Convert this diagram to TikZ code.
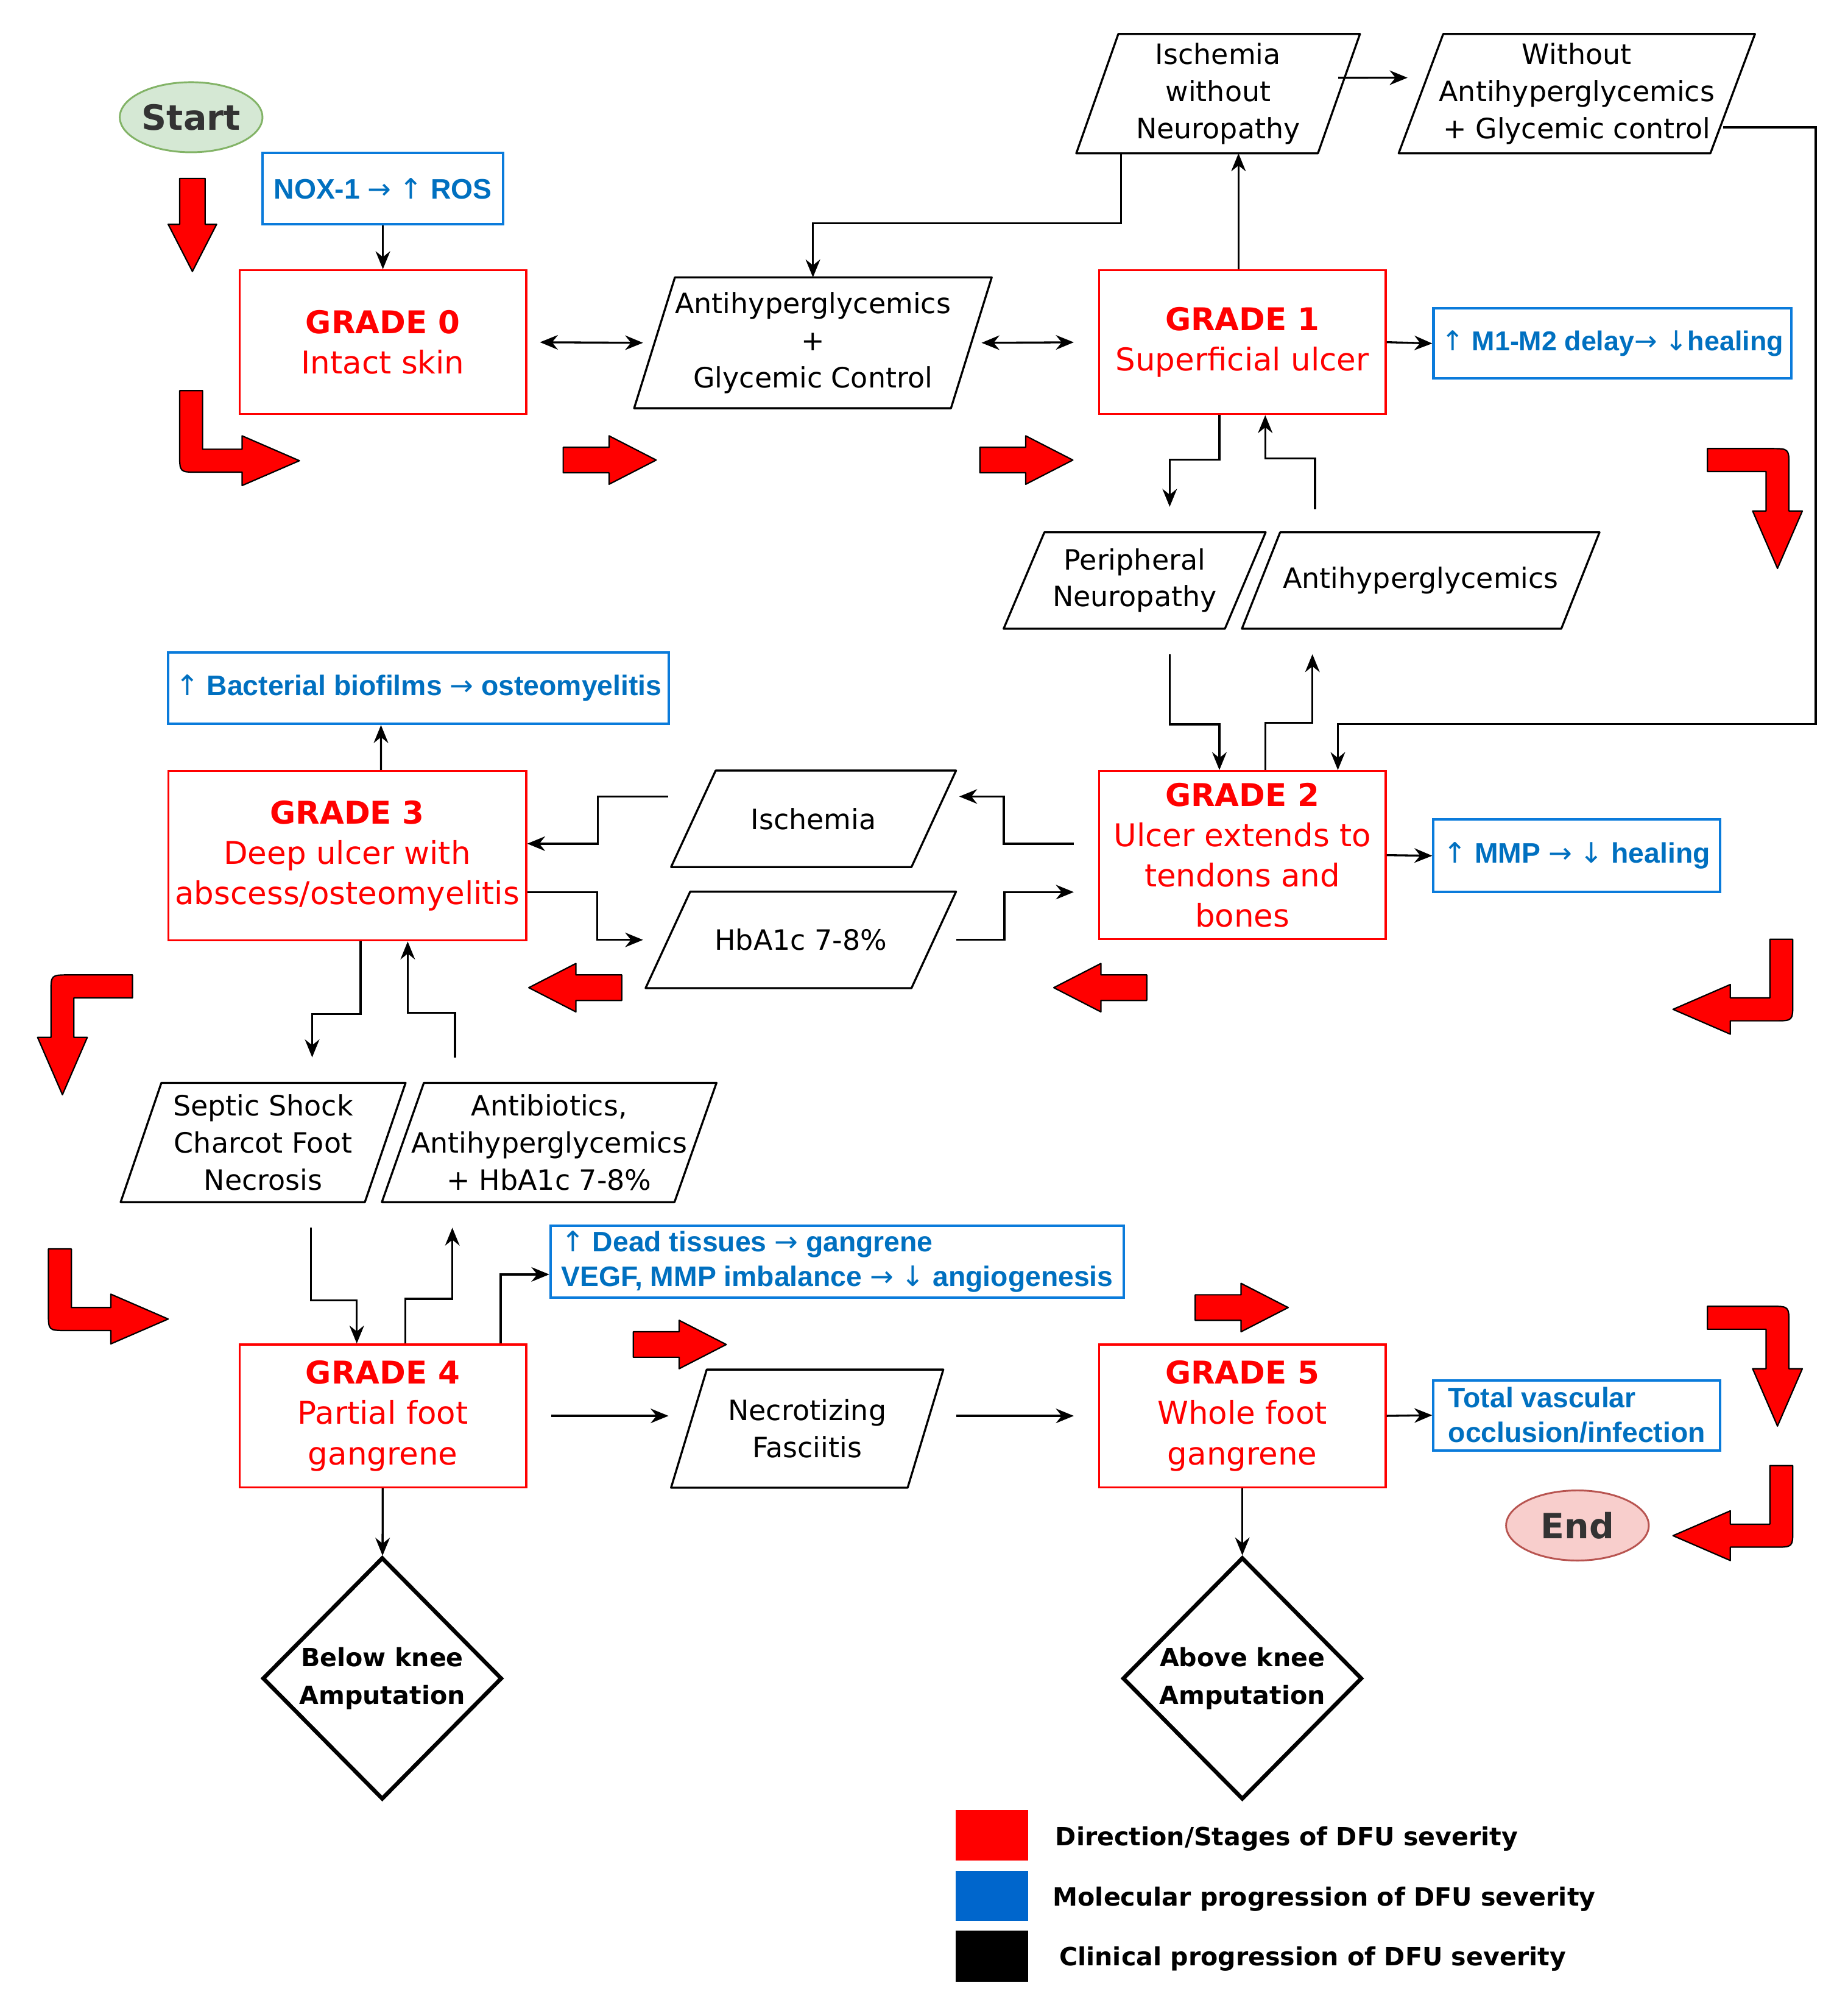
\documentclass[tikz,border=0pt]{standalone}
\usepackage{fontspec}
\setmainfont{DejaVu Sans}
\newfontfamily\arialfont{Liberation Sans}
\newfontfamily\arrowfont{DejaVu Sans}
\newcommand{\molto}{{\arrowfont\mdseries →}}
\newcommand{\molup}{{\arrowfont\mdseries ↑}}
\newcommand{\moldown}{{\arrowfont\mdseries ↓}}
\usetikzlibrary{arrows.meta,shapes.geometric,positioning,calc}
\definecolor{dfured}{HTML}{FF0000}
\definecolor{molblue}{HTML}{0070C0}
\definecolor{boxblue}{HTML}{0A7BDB}
\definecolor{legblue}{HTML}{0066CC}
\definecolor{startgreen}{HTML}{D5E8D4}
\definecolor{startedge}{HTML}{82B366}
\definecolor{endpink}{HTML}{F8CECC}
\definecolor{endedge}{HTML}{B85450}
\definecolor{termtext}{HTML}{333333}

\tikzset{
  redfill/.style={fill=dfured, draw=black, line width=0.6pt, line join=round},
  blockarrow/.pic={\filldraw[redfill] (0,10) -- (36,10) -- (36,19) -- (73,0) -- (36,-19) -- (36,-10) -- (0,-10) -- cycle;},
  bentarrow/.pic={\filldraw[redfill] (0,0) -- (18,0) -- (18,-46) -- (49,-46) -- (49,-35.5) -- (94,-55) -- (49,-74.5) -- (49,-64) -- (14,-64) .. controls (0,-64) .. (0,-50) -- cycle;}
}
% name, position, width, height, slant, text
\newcommand{\datanode}[6]{%
  \node[paratext, minimum width=#3, minimum height=#4] (#1) at #2 {#6};
  \draw[paraedge] ([xshift=#5]#1.north west) -- (#1.north east) -- ([xshift=-#5]#1.south east) -- (#1.south west) -- cycle;}

\begin{document}
\begin{tikzpicture}[x=0.02cm, y=0.02cm, >={Stealth[length=8pt,width=6.5pt]},
  gradebox/.style={draw=dfured, line width=0.9pt, text=dfured, align=center, inner sep=1pt, minimum width=4.5cm, font=\fontsize{14}{18}\selectfont},
  molbox/.style={draw=boxblue, line width=1.1pt, text=molblue, inner sep=1pt, font=\arialfont\bfseries\fontsize{12.6}{15.5}\selectfont},
  paratext/.style={align=center, inner sep=1pt, font=\fontsize{12.5}{16.5}\selectfont},
  paraedge/.style={line width=0.9pt, line join=round},
  terminal/.style={ellipse, draw, line width=0.8pt, inner sep=0pt, minimum width=2.24cm, minimum height=1.1cm, text=termtext, font=\bfseries\fontsize{15.5}{18}\selectfont},
  amput/.style={diamond, draw, line width=1.8pt, minimum width=3.76cm, minimum height=3.8cm, inner sep=0pt, align=center, font=\bfseries\fontsize{11.2}{17}\selectfont},
  conn/.style={->, line width=0.9pt},
  keybox/.style={minimum width=1.14cm, minimum height=0.8cm, inner sep=0pt},
  legtext/.style={anchor=west, inner sep=0pt, font=\bfseries\fontsize{11.2}{13}\selectfont}]
\fill[white] (0,0) rectangle (1450,-1567);
\useasboundingbox (0,0) rectangle (1450,-1567);

% terminals and molecular boxes
\node[terminal, fill=startgreen, draw=startedge] (start) at (150,-92) {Start};
\node[terminal, fill=endpink, draw=endedge] (stop) at (1238,-1197) {End};
\node[molbox, minimum width=3.78cm, minimum height=1.12cm] (nox) at (300.5,-148) {NOX-1 \molto{} \molup{} ROS};
\node[molbox, minimum width=5.62cm, minimum height=1.1cm, font=\arialfont\bfseries\fontsize{12.2}{15}\selectfont] (m1m2) at (1265.5,-269.5) {\molup{} M1-M2 delay\molto{} \moldown{}healing};
\node[molbox, minimum width=4.5cm, minimum height=1.14cm] (mmp) at (1237.5,-671.5) {\molup{} MMP \molto{} \moldown{} healing};
\node[molbox, minimum width=7.86cm, minimum height=1.12cm] (bact) at (328.5,-540) {\molup{} Bacterial biofilms \molto{} osteomyelitis};
\node[molbox, minimum width=9cm, minimum height=1.12cm, align=left] (dead) at (657,-990) {\molup{} Dead tissues \molto{} gangrene\\VEGF, MMP imbalance \molto{} \moldown{} angiogenesis};
\node[molbox, minimum width=4.5cm, minimum height=1.1cm, align=left] (tvo) at (1237.5,-1110.5) {Total vascular\\occlusion/infection};

% grades
\node[gradebox, minimum height=2.26cm] (g0) at (300.5,-268.5) {{\bfseries GRADE 0}\\Intact skin};
\node[gradebox, minimum height=2.26cm] (g1) at (975,-268.5) {{\bfseries GRADE 1}\\Superficial ulcer};
\node[gradebox, minimum height=2.64cm] (g2) at (975,-671) {{\bfseries GRADE 2}\\Ulcer extends to\\tendons and\\bones};
\node[gradebox, minimum width=5.62cm, minimum height=2.66cm] (g3) at (272.5,-671.5) {{\bfseries GRADE 3}\\Deep ulcer with\\abscess/osteomyelitis};
\node[gradebox, minimum height=2.24cm] (g4) at (300.5,-1111) {{\bfseries GRADE 4}\\Partial foot\\gangrene};
\node[gradebox, minimum height=2.24cm] (g5) at (975,-1111) {{\bfseries GRADE 5}\\Whole foot\\gangrene};

% clinical factors
\datanode{ahg}{(638,-269)}{5.6cm}{2.04cm}{0.64cm}{Antihyperglycemics\\+\\Glycemic Control}
\datanode{iwn}{(956,-73.5)}{4.44cm}{1.86cm}{0.66cm}{Ischemia\\without\\Neuropathy}
\datanode{wag}{(1237.5,-73.5)}{5.58cm}{1.86cm}{0.7cm}{Without\\Antihyperglycemics\\+ Glycemic control}
\datanode{pn}{(890.5,-455.5)}{4.1cm}{1.5cm}{0.64cm}{Peripheral\\Neuropathy}
\datanode{ah2}{(1115,-455.5)}{5.6cm}{1.5cm}{0.6cm}{Antihyperglycemics}
\datanode{isch}{(638.5,-642.5)}{4.46cm}{1.5cm}{0.7cm}{Ischemia}
\datanode{hba}{(628.5,-737.5)}{4.86cm}{1.5cm}{0.7cm}{HbA1c 7-8\%}
\datanode{ssc}{(206.5,-896.5)}{4.46cm}{1.86cm}{0.64cm}{Septic Shock\\Charcot Foot\\Necrosis}
\datanode{abx}{(431,-896.5)}{5.24cm}{1.86cm}{0.66cm}{Antibiotics,\\Antihyperglycemics\\+ HbA1c 7-8\%}
\datanode{nf}{(633.5,-1121)}{4.26cm}{1.84cm}{0.56cm}{Necrotizing\\Fasciitis}

% amputations
\node[amput] (bka) at (300,-1317) {Below knee\\Amputation};
\node[amput] (aka) at (975,-1317) {Above knee\\Amputation};

% connectors
\coordinate (rightbend) at (1425,-568);
\draw[conn] (nox) -- (g0);
\draw[conn,<->,shorten <=0.2cm] (g0.east) -- ([xshift=0.14cm]ahg.west);
\draw[conn,<->,shorten >=0.38cm] ([xshift=-0.16cm]ahg.east) -- (g1.west);
\draw[conn] (g1.east) -- (m1m2.west);
\draw[conn] ([xshift=-0.06cm]g1.north) -- ([xshift=-0.06cm]g1.north |- iwn.south);
\draw[conn] ([xshift=0.7cm]iwn.south west) -- ++(0,-55) -| (ahg.north);
\draw[conn] ([xshift=-0.34cm,yshift=0.25cm]iwn.east) -- ($(wag.west)+(7,12.5)$);
\draw[conn] ([xshift=-0.5cm,yshift=0.41cm]wag.south east) -| (rightbend) -| ([xshift=1.5cm]g2.north);
\draw[conn,shorten >=0.4cm] ([xshift=-0.36cm]g1.south) -- ++(0,-35) -| ([xshift=0.55cm]pn.north);
\draw[conn,shorten <=0.36cm] ([xshift=-1.66cm]ah2.north) -- ++(0,58) -| ([xshift=0.36cm]g1.south);
\draw[conn,shorten <=0.4cm] ([xshift=0.55cm]pn.south) -- ++(0,-75) -| ([xshift=-0.36cm]g2.north);
\draw[conn,shorten >=0.4cm] ([xshift=0.36cm]g2.north) -- ++(0,37) -| ([xshift=-1.7cm]ah2.south);
\draw[conn] (g2.east) -- (mmp.west);
\draw[conn] ([xshift=-0.38cm,yshift=0.18cm]g2.west) -- ++(-55,0) |- ([xshift=0.05cm,yshift=0.35cm]isch.east);
\draw[conn] (hba.east) -- ++(38,0) |- ([xshift=-0.38cm,yshift=-0.58cm]g2.west);
\draw[conn] ([xshift=-0.05cm,yshift=0.35cm]isch.west) -- ++(-55,0) |- ([yshift=0.19cm]g3.east);
\draw[conn] ([yshift=-0.57cm]g3.east) -- ++(55,0) |- ([xshift=-0.04cm]hba.west);
\draw[conn] ([xshift=0.53cm]g3.north) -- ($(g3.north |- bact.south)+(26.5,0)$);
\draw[conn,shorten >=0.4cm] ([xshift=0.21cm]g3.south) -- ++(0,-57) -| ([xshift=0.77cm]ssc.north);
\draw[conn,shorten <=0.4cm] ([xshift=-1.48cm]abx.north) -- ++(0,55) -| ([xshift=0.95cm]g3.south);
\draw[conn,shorten <=0.4cm] ([xshift=0.75cm]ssc.south) -- ++(0,-77) -| ([xshift=-0.41cm]g4.north);
\draw[conn,shorten >=0.4cm] ([xshift=0.35cm]g4.north) -- ++(0,35) -| ([xshift=-1.52cm]abx.south);
\draw[conn] ([xshift=1.85cm]g4.north) |- ([yshift=-0.2cm]dead.west);
\draw[conn,shorten <=0.38cm,shorten >=0.04cm] (g4.east) -- (g4.east -| nf.west);
\draw[conn,shorten >=0.38cm] ($(g5.west -| nf.east)+(10,0)$) -- (g5.west);
\draw[conn] (g5.east) -- (tvo.west);
\draw[conn] (g4) -- (bka);
\draw[conn] (g5) -- (aka);

% red direction arrows
\pic[rotate=-90] at (151,-140) {blockarrow};
\pic at (141,-306.5) {bentarrow};
\pic at (442,-361) {blockarrow};
\pic at (769,-361) {blockarrow};
\pic[xscale=-1,rotate=-90] at (1340,-352) {bentarrow};
\pic[rotate=180] at (488,-775) {blockarrow};
\pic[rotate=180] at (900,-775) {blockarrow};
\pic[xscale=-1] at (1407,-737) {bentarrow};
\pic[rotate=-90] at (104,-765) {bentarrow};
\pic at (38,-980) {bentarrow};
\pic at (497,-1055) {blockarrow};
\pic at (938,-1026) {blockarrow};
\pic[xscale=-1,rotate=-90] at (1340,-1025) {bentarrow};
\pic[xscale=-1] at (1407,-1150) {bentarrow};

% legend
\node[keybox, fill=dfured] (keyred) at (778.5,-1440) {};
\node[keybox, fill=legblue, minimum height=0.78cm] (keyblue) at (778.5,-1487.5) {};
\node[keybox, fill=black] (keyblack) at (778.5,-1535) {};
\node[legtext] (keyredtxt) at (828,-1443) {Direction/Stages of DFU severity};
\node[legtext] (keybluetxt) at (826,-1490) {Molecular progression of DFU severity};
\node[legtext] (keyblacktxt) at (831,-1537) {Clinical progression of DFU severity};
\end{tikzpicture}
\end{document}
